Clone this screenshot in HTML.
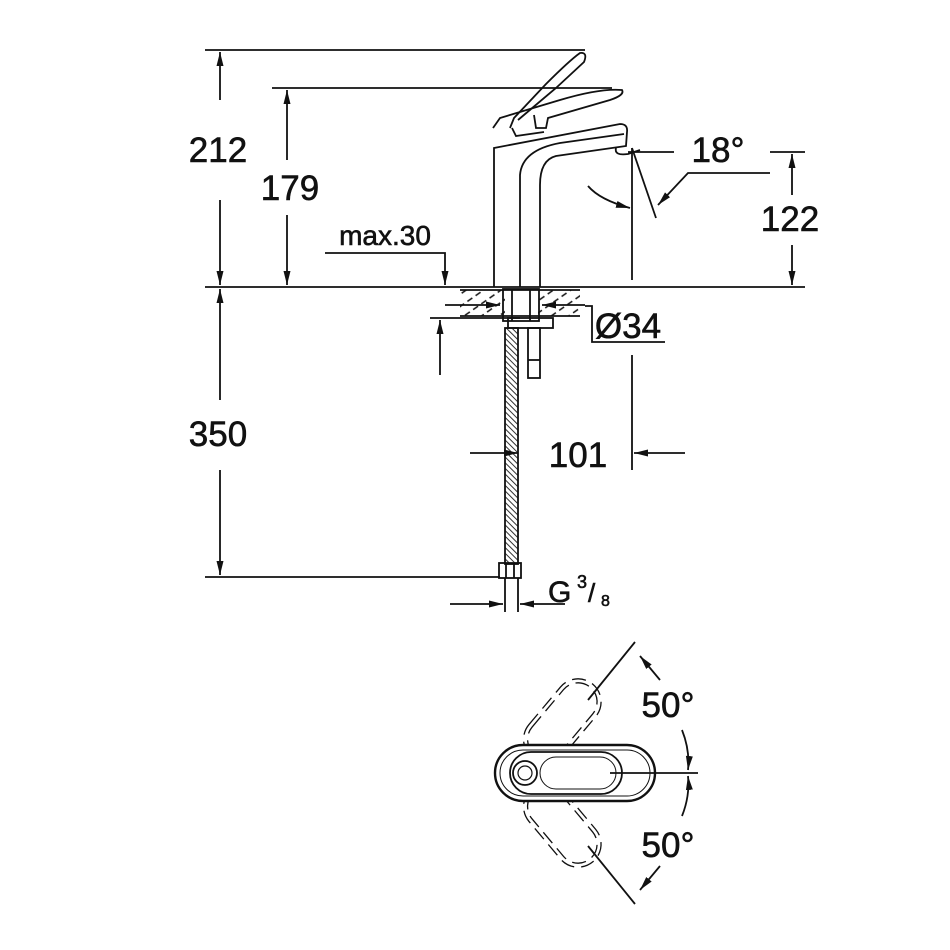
<!DOCTYPE html>
<html><head><meta charset="utf-8"><style>
html,body{margin:0;padding:0;background:#fff}
svg{display:block}
text{font-family:"Liberation Sans",Arial,sans-serif;fill:#111;stroke:#111;stroke-width:0.6}
</style></head><body>
<svg width="950" height="950" viewBox="0 0 950 950" xmlns="http://www.w3.org/2000/svg">
<defs>
<marker id="a" viewBox="0 0 14 8" refX="14" refY="4" markerWidth="14" markerHeight="8" orient="auto-start-reverse" markerUnits="userSpaceOnUse"><path d="M0,0.5 L14,4 L0,7.5 z" fill="#111"/></marker>
<pattern id="h" width="10" height="10" patternUnits="userSpaceOnUse" patternTransform="rotate(-35)"><line x1="0" y1="5" x2="6" y2="5" stroke="#111" stroke-width="1.5"/></pattern>
<pattern id="hose" width="4" height="4" patternUnits="userSpaceOnUse" patternTransform="rotate(45)"><line x1="0" y1="2" x2="4" y2="2" stroke="#333" stroke-width="1"/></pattern>
</defs>
<g stroke="#111" stroke-width="1.8" fill="none">
<line x1="205" y1="50" x2="585" y2="50"/>
<line x1="272" y1="88" x2="612" y2="88"/>
<line x1="205" y1="287" x2="805" y2="287"/>
<line x1="205" y1="577" x2="500" y2="577"/>
<line x1="628" y1="152" x2="674" y2="152"/>
<line x1="770" y1="152" x2="805" y2="152"/>
<line x1="220" y1="52" x2="220" y2="100" marker-start="url(#a)"/>
<line x1="220" y1="200" x2="220" y2="285" marker-end="url(#a)"/>
<line x1="220" y1="289" x2="220" y2="400" marker-start="url(#a)"/>
<line x1="220" y1="470" x2="220" y2="575" marker-end="url(#a)"/>
<line x1="287" y1="90" x2="287" y2="160" marker-start="url(#a)"/>
<line x1="287" y1="215" x2="287" y2="285" marker-end="url(#a)"/>
<line x1="792" y1="154" x2="792" y2="195" marker-start="url(#a)"/>
<line x1="792" y1="245" x2="792" y2="285" marker-end="url(#a)"/>
<polyline points="325,253 445,253 445,285" marker-end="url(#a)"/>
<line x1="440" y1="375" x2="440" y2="320" marker-end="url(#a)"/>
<line x1="430" y1="318" x2="520" y2="318"/>
<rect x="460" y="290" width="45" height="26" fill="url(#h)" stroke="none"/>
<rect x="538" y="290" width="42" height="26" fill="url(#h)" stroke="none"/>
<line x1="460" y1="290" x2="580" y2="290"/>
<line x1="460" y1="316" x2="580" y2="316"/>
<rect x="503" y="289" width="36" height="32"/>
<line x1="512" y1="289" x2="512" y2="321"/>
<line x1="530" y1="289" x2="530" y2="321"/>
<rect x="508" y="318" width="45" height="10"/>
<line x1="445" y1="305" x2="500" y2="305" marker-end="url(#a)"/>
<polyline points="585,305 542,305" marker-end="url(#a)"/>
<polyline points="585,306 592,306 592,342 665,342"/>
<rect x="505" y="328" width="13" height="236" fill="url(#hose)"/>
<rect x="528" y="328" width="12" height="50"/>
<line x1="528" y1="360" x2="540" y2="360"/>
<rect x="499" y="563" width="22" height="15"/>
<line x1="506" y1="563" x2="506" y2="578"/><line x1="514" y1="563" x2="514" y2="578"/>
<line x1="505" y1="578" x2="505" y2="612"/><line x1="518" y1="578" x2="518" y2="612"/>
<path d="M494,287 L494,148 L620,124 Q628,124 627,132 L626,146 L556,156 Q540,160 540,185 L540,287"/>
<path d="M520,287 L520,175 Q522,150 560,143 L624,134"/>
<path d="M616,148 Q614,156 628,154 L640,150"/>
<path d="M493,128 L500,118 L560,100 Q600,88 622,90 Q625,95 610,100 L548,118 L546,128 L536,128 L534,115"/>
<path d="M510,128 L514,118 L546,84 Q570,60 580,53 Q588,52 584,62 L556,88 L518,120"/>
<path d="M512,128 L516,136 L544,132" />
<line x1="632" y1="148" x2="632" y2="280"/>
<line x1="632" y1="148" x2="656" y2="218"/>
<path d="M588,186 Q600,200 630,208" marker-end="url(#a)"/>
<polyline points="770,173 688,173 658,205" marker-end="url(#a)"/>
<line x1="632" y1="355" x2="632" y2="470"/>
<line x1="470" y1="453" x2="518" y2="453" marker-end="url(#a)"/>
<line x1="685" y1="453" x2="634" y2="453" marker-end="url(#a)"/>
<line x1="450" y1="604" x2="503" y2="604" marker-end="url(#a)"/>
<line x1="565" y1="604" x2="520" y2="604" marker-end="url(#a)"/>
<g stroke-dasharray="14,7" stroke-width="1.3" fill="#fff">
<rect x="515" y="698" width="95" height="46" rx="23" transform="rotate(-50 562 721)"/>
<rect x="519" y="702" width="87" height="38" rx="19" transform="rotate(-50 562 721)"/>
<rect x="515" y="802" width="95" height="46" rx="23" transform="rotate(50 562 825)"/>
<rect x="519" y="806" width="87" height="38" rx="19" transform="rotate(50 562 825)"/>
</g>
<rect x="495" y="745" width="160" height="56" rx="28" stroke-width="2.4" fill="#fff"/>
<rect x="500" y="750" width="150" height="46" rx="23" stroke-width="1"/>
<rect x="510" y="752" width="112" height="42" rx="21"/>
<rect x="540" y="757" width="76" height="32" rx="16" stroke-width="1"/>
<circle cx="525" cy="773" r="12"/>
<circle cx="525" cy="773" r="7" stroke-width="1.2"/>
<line x1="588" y1="700" x2="635" y2="642"/>
<line x1="588" y1="846" x2="635" y2="904"/>
<path d="M660,680 Q650,668 640,656" marker-end="url(#a)"/>
<path d="M660,866 Q650,878 640,890" marker-end="url(#a)"/>
<line x1="610" y1="773" x2="698" y2="773"/>
<path d="M682,730 Q690,750 688,770" marker-end="url(#a)"/>
<path d="M682,816 Q690,796 688,776" marker-end="url(#a)"/>
</g>
<g font-size="35">
<text x="218" y="162" text-anchor="middle">212</text>
<text x="290" y="200" text-anchor="middle">179</text>
<text x="218" y="446" text-anchor="middle">350</text>
<text x="790" y="231" text-anchor="middle">122</text>
<text x="578" y="467" text-anchor="middle">101</text>
<text x="718" y="162" text-anchor="middle">18°</text>
<text x="628" y="338" text-anchor="middle">Ø34</text>
<text x="668" y="717" text-anchor="middle">50°</text>
<text x="668" y="857" text-anchor="middle">50°</text>
</g>
<text x="385" y="245" font-size="28" text-anchor="middle">max.30</text>
<text x="548" y="602" font-size="30">G</text>
<text x="577" y="588" font-size="18">3</text>
<text x="588" y="602" font-size="26">/</text>
<text x="601" y="606" font-size="16">8</text>
</svg>
</body></html>
